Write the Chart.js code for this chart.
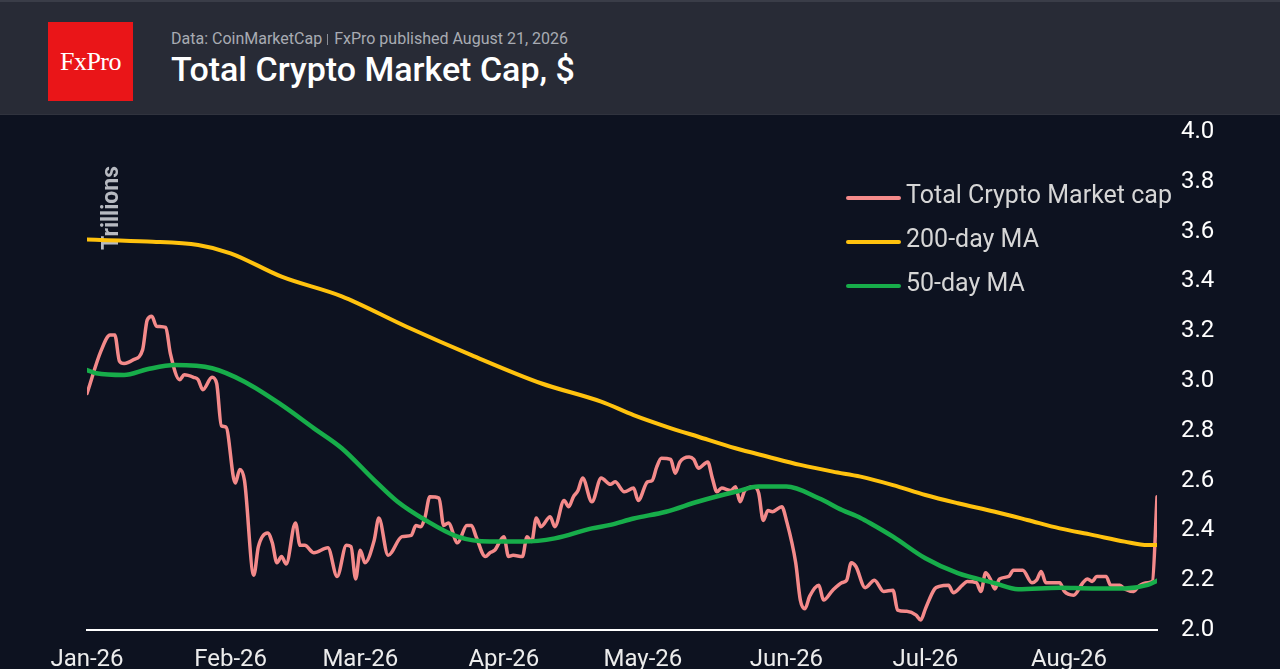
<!DOCTYPE html>
<html>
<head>
<meta charset="utf-8">
<script src="https://cdn.jsdelivr.net/npm/chart.js@4.4.1/dist/chart.umd.min.js"></script>
<style>
  html, body { margin: 0; padding: 0; background: #0d1220; width: 1280px; height: 669px; overflow: hidden; }
  #wrap { position: relative; width: 1280px; height: 669px; font-family: Roboto, sans-serif; }
  #chart { position: absolute; left: 0; top: 0; }
  #header { position: absolute; left: 0; top: 0; width: 1280px; height: 115px; background: #282b36; border-top: 2px solid #3a3d48; box-sizing: border-box; border-bottom: 1px solid #30333e; }
  #logo { position: absolute; left: 48px; top: 20px; width: 85px; height: 79px; background: #ea1518; color: #fff; font-family: "Liberation Serif", "DejaVu Serif", serif; font-size: 26px; line-height: 79px; text-align: center; letter-spacing: -0.5px; }
  #sub { position: absolute; left: 171px; top: 29px; font-size: 16px; line-height: 16px; color: #a8abb3; white-space: nowrap; }
  #sub .sep { display: inline-block; width: 1px; height: 11px; background: #8a8d95; margin: 0 6px 0 5px; vertical-align: -1px; }
  #title { position: absolute; left: 171px; top: 50px; font-size: 34px; line-height: 34px; font-weight: 500; color: #ffffff; white-space: nowrap; }
  .leg { position: absolute; left: 846px; height: 30px; white-space: nowrap; color: #d6d6d6; font-size: 25px; line-height: 30px; }
  .leg i { display: inline-block; width: 55px; height: 4px; border-radius: 2px; vertical-align: middle; margin-right: 5px; position: relative; top: 2px; }
</style>
</head>
<body>
<div id="wrap">
  <canvas id="chart" width="1280" height="669"></canvas>
  <div id="header">
    <div id="logo">FxPro</div>
    <div id="sub">Data: CoinMarketCap<span class="sep"></span>FxPro published August 21, 2026</div>
    <div id="title">Total Crypto Market Cap, $</div>
  </div>
  <div class="leg" style="top:180px"><i style="background:#f48a8a"></i>Total Crypto Market cap</div>
  <div class="leg" style="top:224px"><i style="background:#ffc20e"></i>200-day MA</div>
  <div class="leg" style="top:268px"><i style="background:#17ad4a"></i>50-day MA</div>
</div>
<script>
// days counted from 1 Jan 2026, values in trillions of $
const monthDays = [0, 31, 59, 90, 120, 151, 181, 212];
const monthLabels = ['Jan-26', 'Feb-26', 'Mar-26', 'Apr-26', 'May-26', 'Jun-26', 'Jul-26', 'Aug-26'];

const capDays = [0, 3, 5, 6, 7, 8, 10, 12, 13, 14, 15, 17, 18, 20, 21, 23, 24, 25, 27, 28, 29, 30, 32, 33, 34, 36, 37, 39, 40, 41, 42, 43, 45, 46, 47, 49, 52, 54, 56, 57, 58, 59, 60, 62, 63, 65, 68, 70, 71, 72, 73, 74, 76, 77, 78, 80, 82, 83, 84, 86, 87, 88, 90, 91, 92, 94, 95, 96, 97, 98, 100, 101, 103, 104, 105, 106, 107, 109, 111, 113, 114, 116, 118, 119, 121, 122, 123, 124, 126, 127, 128, 130, 131, 132, 134, 135, 136, 137, 139, 140, 141, 142, 144, 145, 146, 147, 148, 150, 151, 153, 154, 155, 156, 158, 159, 161, 163, 164, 165, 166, 168, 170, 172, 174, 175, 177, 179, 180, 181, 183, 184, 186, 187, 189, 190, 192, 193, 194, 195, 196, 197, 199, 200, 202, 204, 205, 206, 207, 210, 211, 213, 215, 216, 217, 218, 220, 221, 223, 224, 226, 227, 229, 230, 231];
const capValues = [2.95, 3.12, 3.185, 3.185, 3.08, 3.07, 3.085, 3.125, 3.245, 3.26, 3.22, 3.215, 3.11, 3.005, 3.025, 3.015, 3.005, 2.965, 3.015, 2.99, 2.82, 2.815, 2.59, 2.645, 2.6, 2.22, 2.335, 2.39, 2.35, 2.27, 2.295, 2.265, 2.43, 2.34, 2.34, 2.31, 2.33, 2.215, 2.34, 2.335, 2.205, 2.32, 2.27, 2.36, 2.45, 2.3, 2.375, 2.38, 2.42, 2.415, 2.455, 2.535, 2.53, 2.42, 2.43, 2.35, 2.42, 2.42, 2.375, 2.295, 2.31, 2.32, 2.375, 2.295, 2.3, 2.295, 2.375, 2.355, 2.45, 2.415, 2.455, 2.415, 2.52, 2.495, 2.535, 2.56, 2.61, 2.515, 2.61, 2.585, 2.595, 2.555, 2.57, 2.52, 2.595, 2.6, 2.655, 2.69, 2.685, 2.63, 2.675, 2.695, 2.685, 2.65, 2.675, 2.61, 2.555, 2.57, 2.56, 2.575, 2.515, 2.56, 2.575, 2.55, 2.44, 2.48, 2.475, 2.495, 2.44, 2.27, 2.12, 2.085, 2.135, 2.18, 2.12, 2.16, 2.19, 2.2, 2.27, 2.255, 2.17, 2.2, 2.155, 2.16, 2.08, 2.075, 2.06, 2.04, 2.085, 2.165, 2.175, 2.18, 2.15, 2.18, 2.195, 2.19, 2.155, 2.23, 2.205, 2.165, 2.205, 2.215, 2.24, 2.24, 2.19, 2.2, 2.235, 2.19, 2.19, 2.155, 2.14, 2.19, 2.205, 2.195, 2.215, 2.215, 2.18, 2.18, 2.165, 2.155, 2.175, 2.19, 2.195, 2.535];

const ma200Days = [0, 13, 24, 31, 42, 55, 69, 83, 98, 111, 118, 125, 132, 140, 147, 154, 161, 167, 174, 181, 188, 196, 203, 210, 217, 224, 229, 231];
const ma200Values = [3.568, 3.56, 3.546, 3.513, 3.419, 3.34, 3.218, 3.104, 2.991, 2.917, 2.863, 2.817, 2.776, 2.73, 2.696, 2.663, 2.636, 2.616, 2.582, 2.542, 2.509, 2.475, 2.442, 2.408, 2.382, 2.355, 2.341, 2.341];

const ma50Days = [0, 2, 8, 13, 19, 27, 34, 42, 49, 55, 62, 67, 73, 80, 87, 94, 101, 109, 113, 118, 125, 132, 140, 145, 151, 158, 163, 167, 169, 174, 181, 188, 196, 201, 210, 217, 224, 229, 231];
const ma50Values = [3.044, 3.031, 3.024, 3.047, 3.064, 3.051, 2.997, 2.904, 2.81, 2.73, 2.602, 2.516, 2.442, 2.375, 2.355, 2.355, 2.368, 2.408, 2.422, 2.448, 2.475, 2.516, 2.555, 2.576, 2.576, 2.529, 2.482, 2.45, 2.43, 2.375, 2.288, 2.228, 2.188, 2.164, 2.17, 2.167, 2.167, 2.181, 2.198];

const toPoints = (days, vals) => days.map((d, i) => ({ x: d, y: vals[i] }));

// vertical "Trillions" label, drawn under the lines
const trillionsLabel = {
    id: 'trillionsLabel',
    beforeDatasetsDraw(chart) {
        const c = chart.ctx;
        c.save();
        c.translate(112, 208);
        c.rotate(-Math.PI / 2);
        c.font = 'bold 23px Roboto';
        c.fillStyle = '#b7bac1';
        c.textAlign = 'center';
        c.textBaseline = 'middle';
        c.fillText('Trillions', 0, 0);
        c.restore();
    }
};

const ctx = document.getElementById('chart').getContext('2d');
new Chart(ctx, {
    type: 'line',
    data: {
        datasets: [
            {
                label: 'Total Crypto Market cap',
                data: toPoints(capDays, capValues),
                borderColor: '#f48a8a',
                borderWidth: 3.5,
                tension: 0,
                order: 3
            },
            {
                label: '200-day MA',
                data: toPoints(ma200Days, ma200Values),
                borderColor: '#ffc20e',
                borderWidth: 4,
                tension: 0.4,
                order: 2
            },
            {
                label: '50-day MA',
                data: toPoints(ma50Days, ma50Values),
                borderColor: '#17ad4a',
                borderWidth: 4.5,
                tension: 0.4,
                order: 1
            }
        ]
    },
    options: {
        responsive: false,
        animation: false,
        elements: {
            point: { radius: 0 },
            line: { borderJoinStyle: 'round', borderCapStyle: 'round', cubicInterpolationMode: 'monotone' }
        },
        layout: { padding: { top: 132, left: 87, right: 0, bottom: 0 } },
        plugins: {
            legend: { display: false },
            tooltip: { enabled: false }
        },
        scales: {
            x: {
                type: 'linear',
                min: 0,
                max: 231,
                grid: { display: false, drawTicks: false },
                border: { display: true, color: '#ffffff', width: 2 },
                afterBuildTicks: scale => { scale.ticks = monthDays.map(v => ({ value: v })); },
                afterFit: scale => { scale.height = 39; },
                ticks: {
                    autoSkip: false,
                    maxRotation: 0,
                    padding: 16,
                    color: '#ececec',
                    font: { family: 'Roboto', size: 24 },
                    callback: v => monthLabels[monthDays.indexOf(v)]
                }
            },
            y: {
                position: 'right',
                min: 2,
                max: 4,
                grid: { display: false, drawTicks: false },
                border: { display: false },
                afterFit: scale => { scale.width = 123; },
                ticks: {
                    stepSize: 0.2,
                    padding: 24,
                    color: '#ffffff',
                    font: { family: 'Roboto', size: 24 },
                    callback: v => v.toFixed(1)
                }
            }
        }
    },
    plugins: [trillionsLabel]
});
</script>
</body>
</html>
